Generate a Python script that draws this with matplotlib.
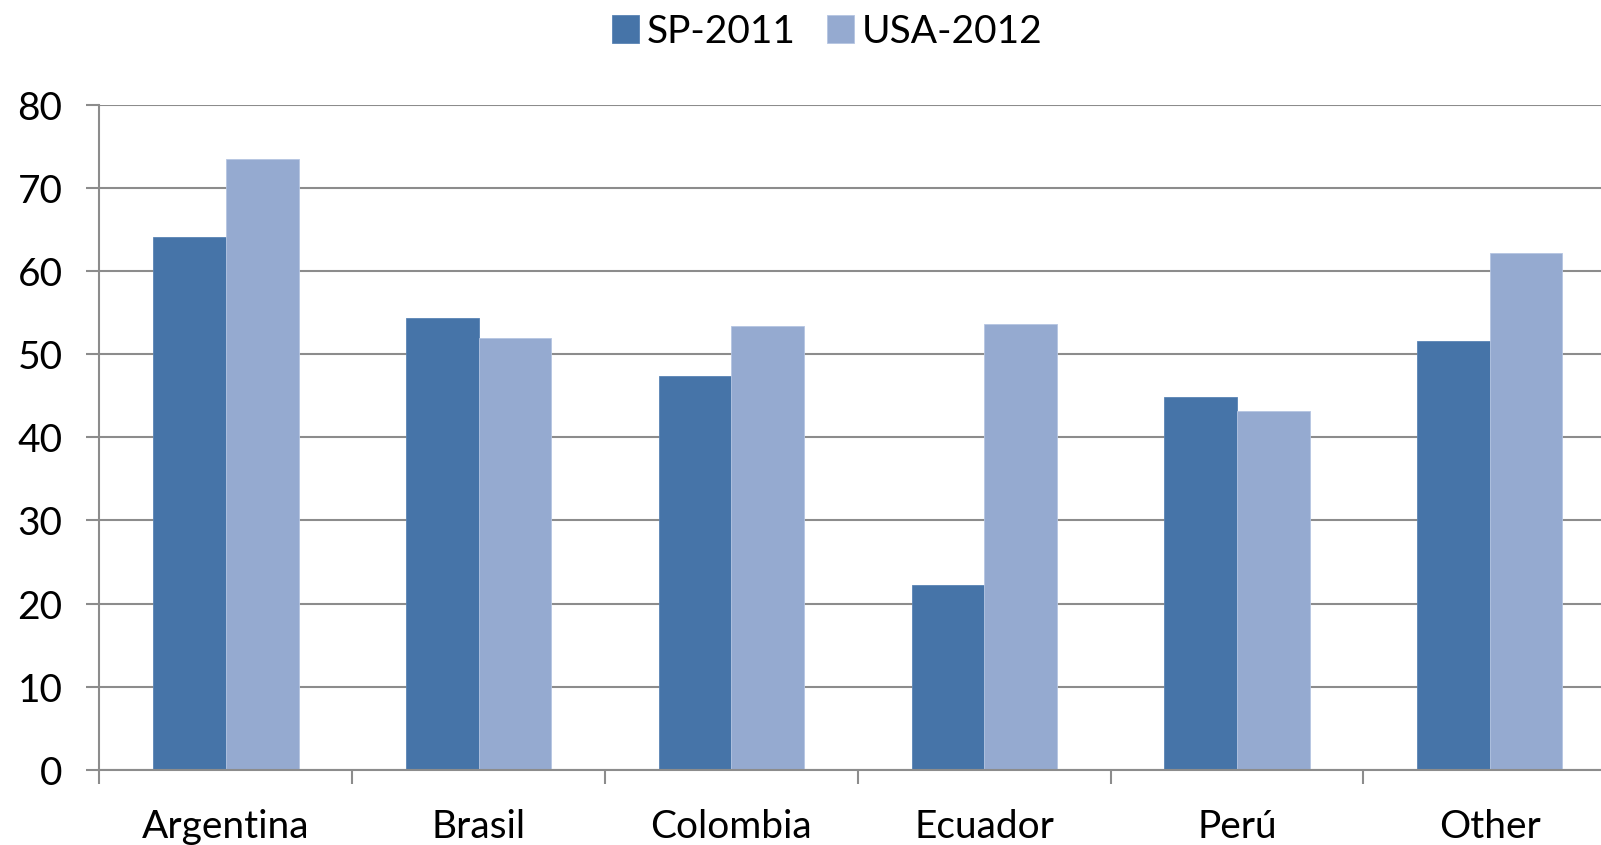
import matplotlib
matplotlib.use("Agg")
import matplotlib.pyplot as plt
import numpy as np

# data
categories = ["Argentina", "Brasil", "Colombia", "Ecuador", "Perú", "Other"]
sp_2011 = [64.1, 54.3, 47.3, 22.2, 44.8, 51.6]
usa_2012 = [73.4, 51.9, 53.4, 53.6, 43.1, 62.2]
y_ticks = [0, 10, 20, 30, 40, 50, 60, 70, 80]

plt.rcParams['font.family'] = ['Lato', 'DejaVu Sans']

dark = '#4674A8'
light = '#95AAD0'
grey = '#8C8C8C'

fig = plt.figure(figsize=(16.01, 8.455), dpi=100)
# axes runs a little past the right edge, like the original
ax = fig.add_axes([0.0621, 0.0888, 0.9474, 0.7870])

x = np.arange(len(categories))
w = 0.2875
ax.bar(x - w / 2, sp_2011, w, color=dark, label='SP-2011', edgecolor='#5A84B4', linewidth=0.6)
ax.bar(x + w / 2, usa_2012, w, color=light, label='USA-2012', edgecolor='#B5C5E2', linewidth=0.6)

ax.set_xlim(-0.5, len(categories) - 0.5)
ax.set_ylim(0, 80)
ax.set_yticks(y_ticks)
ax.yaxis.grid(True, color=grey, linewidth=1.5)
ax.set_axisbelow(True)

# category labels at centres, tick marks at boundaries
ax.set_xticks(x)
ax.set_xticklabels(categories)
ax.set_xticks(np.arange(len(categories) + 1) - 0.5, minor=True)
ax.tick_params(axis='x', which='major', length=0, pad=28, labelsize=28)
ax.tick_params(axis='x', which='minor', length=10, width=1.5, color=grey, direction='out')
ax.tick_params(axis='y', length=9.5, width=1.5, color=grey, direction='out', pad=17, labelsize=28)

for side in ['top', 'right']:
    ax.spines[side].set_visible(False)
ax.spines['left'].set_color(grey)
ax.spines['left'].set_linewidth(1.5)
ax.spines['bottom'].set_color(grey)
ax.spines['bottom'].set_linewidth(1.5)

fig.legend(loc='center', bbox_to_anchor=(0.5165, 0.962), ncol=2, frameon=False,
           fontsize=28, handlelength=0.7, handleheight=0.7, handletextpad=0.2,
           columnspacing=0.8, borderaxespad=0)

fig.savefig('out.png', dpi=100)
